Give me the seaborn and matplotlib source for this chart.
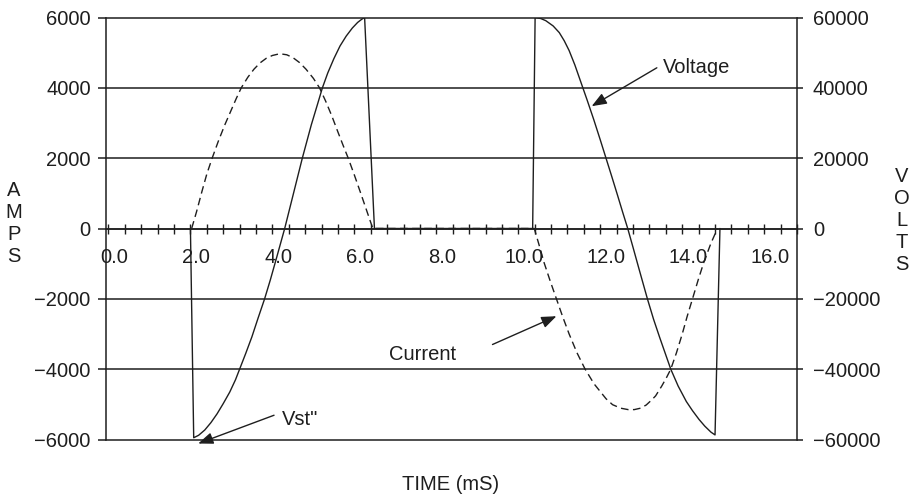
import numpy as np
import pandas as pd
import matplotlib
matplotlib.use("Agg")
import matplotlib.pyplot as plt
import matplotlib.transforms as mtransforms
from matplotlib.ticker import FixedLocator, MultipleLocator
import seaborn as sns

# ---- data (time in ms) ----
voltage_time = [2.00, 2.08, 2.20, 2.35, 2.50, 2.65, 2.80, 2.96, 3.10, 3.20, 3.35, 3.50, 3.65,
                3.81, 3.95, 4.10, 4.30, 4.50, 4.73, 4.95, 5.10, 5.22, 5.35, 5.50, 5.65,
                5.80, 5.95, 6.08, 6.18, 6.25, 6.49,
                10.35, 10.41, 10.55, 10.67, 10.85, 11.00, 11.12, 11.24, 11.38, 11.53, 11.68,
                11.84, 12.00, 12.14, 12.28, 12.42, 12.55, 12.67, 12.80, 12.95, 13.15, 13.30,
                13.45, 13.60, 13.72, 13.90, 14.10, 14.25, 14.41, 14.55, 14.70, 14.80, 14.92]
voltage_volts = [0, -59500, -58800, -57300, -55200, -52700, -49800, -46500, -43000, -40000, -35500,
                 -30800, -25500, -20000, -14600, -8400, 0, 9300, 20000, 29500, 35300, 40000,
                 44200, 48300, 51900, 54700, 57000, 58600, 59500, 60000, 0,
                 0, 60000, 59700, 59100, 57600, 55700, 53400, 50600, 46500, 41500, 36500,
                 31000, 25200, 20000, 14800, 9500, 4500, 0, -5400, -11700, -20000, -25800,
                 -31000, -36000, -40000, -44800, -49200, -51800, -54300, -56200, -57900, -58700, 0]

current_time = [2.03, 2.15, 2.28, 2.40, 2.53, 2.68, 2.84, 3.00, 3.12, 3.24, 3.40, 3.55, 3.70,
                3.85, 4.00, 4.18, 4.35, 4.50, 4.66, 4.82, 5.00, 5.15, 5.30, 5.45, 5.60, 5.72,
                5.85, 6.00, 6.15, 6.30, 6.45,
                10.39, 10.50, 10.63, 10.78, 10.93, 11.08, 11.24, 11.43, 11.63, 11.85, 12.14,
                12.30, 12.50, 12.68, 12.83, 12.98, 13.12, 13.25, 13.35, 13.50, 13.62, 13.72,
                13.86, 14.00, 14.12, 14.25, 14.40, 14.53, 14.70, 14.86]
current_amps = [0, 480, 1050, 1550, 2000, 2480, 2950, 3380, 3700, 4000, 4300, 4530, 4710,
                4840, 4920, 4970, 4940, 4860, 4720, 4530, 4270, 4000, 3620, 3200, 2740, 2380,
                2000, 1520, 1020, 510, 0,
                0, -440, -975, -1500, -2000, -2500, -3000, -3530, -4000, -4420, -4840,
                -5010, -5110, -5150, -5150, -5110, -5020, -4880, -4760, -4480, -4230, -4000,
                -3530, -3000, -2500, -2000, -1420, -950, -420, 0]

amps_ticks = [-6000, -4000, -2000, 0, 2000, 4000, 6000]
volts_ticks = [-60000, -40000, -20000, 0, 20000, 40000, 60000]
time_ticks = [0, 2, 4, 6, 8, 10, 12, 14, 16]
time_labels = ["0.0", "2.0", "4.0", "6.0", "8.0", "10.0", "12.0", "14.0", "16.0"]
amps_labels = ["\u22126000", "\u22124000", "\u22122000", "0", "2000", "4000", "6000"]
volts_labels = ["\u221260000", "\u221240000", "\u221220000", "0", "20000", "40000", "60000"]

# ---- style ----
sns.set_theme(style="white")
plt.rcParams['font.family'] = ['Liberation Sans', 'DejaVu Sans']
FS = 14.5
INK = '#1e1e1e'

fig = plt.figure(figsize=(9.12, 4.99), dpi=100)
W, H = 912, 499
ax = fig.add_axes([106 / W, 1 - 439.5 / H, 691 / W, 422 / H])
ax2 = ax.twinx()

df_c = pd.DataFrame({'time': current_time, 'amps': current_amps})
df_v = pd.DataFrame({'time': voltage_time, 'volts': voltage_volts})

sns.lineplot(data=df_c, x='time', y='amps', ax=ax, sort=False, estimator=None,
             color=INK, linewidth=1.0, linestyle=(0, (5.5, 3.2)))
sns.lineplot(data=df_v, x='time', y='volts', ax=ax2, sort=False, estimator=None,
             color=INK, linewidth=1.0)

ax.set_xlim(-0.06, 16.8)
ax.set_ylim(-6000, 6000)
ax2.set_ylim(-60000, 60000)

# horizontal grid lines
for yv in amps_ticks:
    ax.axhline(yv, color=INK, lw=1.1, clip_on=False, zorder=1)

for a in (ax, ax2):
    a.set_xlabel('')
    a.set_ylabel('')

# spines
ax.spines['top'].set_visible(False)
ax.spines['right'].set_visible(False)
ax.spines['left'].set_color(INK)
ax.spines['left'].set_linewidth(1.1)
ax.spines['bottom'].set_position(('data', 0))
ax.spines['bottom'].set_color(INK)
ax.spines['bottom'].set_linewidth(1.1)
for s in ('top', 'left', 'bottom'):
    ax2.spines[s].set_visible(False)
ax2.spines['right'].set_color(INK)
ax2.spines['right'].set_linewidth(1.1)

# y ticks
ax.yaxis.set_major_locator(FixedLocator(amps_ticks))
ax.set_yticklabels(amps_labels)
ax2.yaxis.set_major_locator(FixedLocator(volts_ticks))
ax2.set_yticklabels(volts_labels)
ax.tick_params(axis='y', left=True, direction='out', length=5.5, width=1.1, color=INK,
               pad=5.5, labelsize=FS, labelcolor=INK)
ax2.tick_params(axis='y', right=True, direction='out', length=4.5, width=1.1, color=INK,
                pad=7, labelsize=FS, labelcolor=INK)

# x ticks
ax.xaxis.set_major_locator(FixedLocator(time_ticks))
ax.set_xticklabels(time_labels)
ax.xaxis.set_minor_locator(MultipleLocator(0.4))
ax.tick_params(axis='x', which='both', bottom=True, direction='inout', length=7.7, width=1.0,
               color=INK, pad=10, labelsize=FS, labelcolor=INK)
offset = mtransforms.ScaledTranslation(6 / 100, 0, fig.dpi_scale_trans)
for lab in ax.get_xticklabels():
    lab.set_transform(lab.get_transform() + offset)

# annotations (amps-axis data coordinates)
arrow = dict(arrowstyle='-|>,head_length=0.9,head_width=0.35', color=INK, lw=1.0,
             mutation_scale=10, shrinkA=0, shrinkB=0)
ax.annotate('', xy=(11.79, 3478), xytext=(13.38, 4570), arrowprops=arrow, annotation_clip=False)
ax.text(13.53, 4580, 'Voltage', fontsize=FS, color=INK, ha='left', va='center')
ax.annotate('', xy=(10.93, -2494), xytext=(9.37, -3299), arrowprops=arrow, annotation_clip=False)
ax.text(7.67, -3583, 'Current', fontsize=FS, color=INK, ha='center', va='center')
ax.annotate('', xy=(2.19, -6115), xytext=(4.04, -5310), arrowprops=arrow, annotation_clip=False)
ax.text(4.23, -5432, 'Vst"', fontsize=FS, color=INK, ha='left', va='center')

# axis titles
fig.text(14 / W, 1 - 223 / H, "A\nM\nP\nS", fontsize=FS, color=INK, ha='center', va='center',
         linespacing=1.2)
fig.text(902 / W, 1 - 220 / H, "V\nO\nL\nT\nS", fontsize=FS, color=INK, ha='center', va='center',
         linespacing=1.2)
fig.text(451 / W, 1 - 485 / H, "TIME (mS)", fontsize=FS, color=INK, ha='center', va='center')

fig.savefig("out.png", dpi=100, facecolor='white')
